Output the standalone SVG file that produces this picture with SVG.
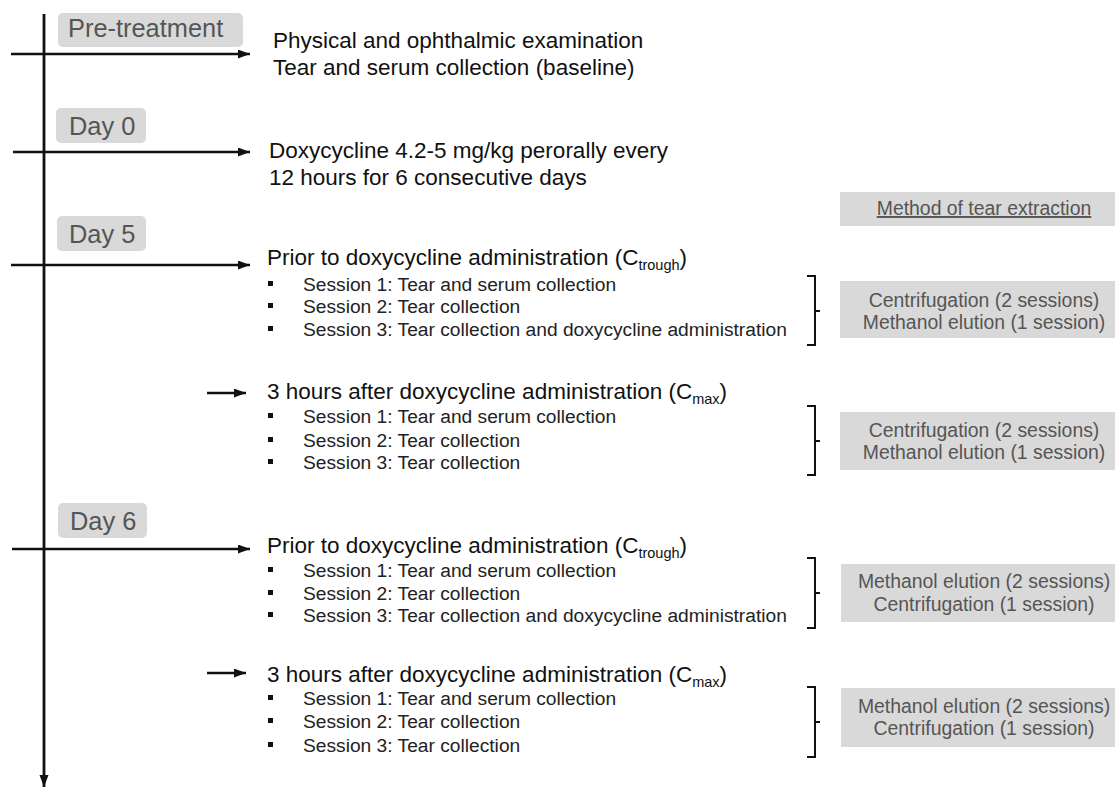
<svg xmlns="http://www.w3.org/2000/svg" width="1115" height="787" viewBox="0 0 1115 787">
<defs>
<marker id="ah" markerUnits="userSpaceOnUse" markerWidth="13" markerHeight="10" refX="12" refY="4.5" orient="auto">
<path d="M0,0 L12,4.5 L0,9 z" fill="#111"/>
</marker>
<style>
.ln{stroke:#111;stroke-width:2.3;fill:none}
.ax{stroke:#111;stroke-width:2.8;fill:none}
.br{stroke:#111;stroke-width:2;fill:none}
.day{fill:#d9d9d9}
.dayt{font-family:"Liberation Sans",Arial,sans-serif;font-size:25.4px;fill:#555}
.main{font-family:"Liberation Sans",Arial,sans-serif;font-size:22.5px;fill:#111}
.sub{font-size:14.5px}
.ses{font-family:"Liberation Sans",Arial,sans-serif;font-size:19.2px;fill:#222}
.bul{fill:#111}
.rbox{fill:#d9d9d9}
.rt{font-family:"Liberation Sans",Arial,sans-serif;font-size:19.4px;fill:#555;text-anchor:middle}
</style>
</defs>
<rect width="1115" height="787" fill="#ffffff"/>

<g id="connectors">
<line class="ax" x1="44" y1="14" x2="44" y2="787" marker-end="url(#ah)"/>
<line class="ln" x1="11" y1="54" x2="250" y2="54" marker-end="url(#ah)"/>
<line class="ln" x1="13" y1="152" x2="250" y2="152" marker-end="url(#ah)"/>
<line class="ln" x1="11" y1="265" x2="250" y2="265" marker-end="url(#ah)"/>
<line class="ln" x1="207" y1="393" x2="246" y2="393" marker-end="url(#ah)"/>
<line class="ln" x1="12" y1="549" x2="250" y2="549" marker-end="url(#ah)"/>
<line class="ln" x1="207" y1="673" x2="246" y2="673" marker-end="url(#ah)"/>
<path class="br" d="M807,276 H815 V345 H807 M815,311 H820"/>
<path class="br" d="M807,406 H815 V475 H807 M815,441 H820"/>
<path class="br" d="M807,558 H815 V628 H807 M815,593 H820"/>
<path class="br" d="M807,687 H815 V757 H807 M815,722 H820"/>
</g>

<g id="pretreatment">
<rect class="day" x="58" y="13" width="185" height="34" rx="5"/>
<text class="dayt" x="68" y="37">Pre-treatment</text>
</g>
<g id="pretreatment-text">
<text class="main" x="273" y="48">Physical and ophthalmic examination</text>
<text class="main" x="273" y="75">Tear and serum collection (baseline)</text>
</g>

<g id="day0">
<rect class="day" x="56" y="108" width="90" height="35" rx="5"/>
<text class="dayt" x="69" y="135">Day 0</text>
</g>
<g id="day0-text">
<text class="main" x="269" y="158">Doxycycline 4.2-5 mg/kg perorally every</text>
<text class="main" x="269" y="185">12 hours for 6 consecutive days</text>
</g>

<g id="method-header">
<rect class="rbox" x="840" y="192" width="275" height="34"/>
<text class="rt" x="984" y="215" text-decoration="underline">Method of tear extraction</text>
</g>

<g id="day5">
<rect class="day" x="57" y="216" width="89" height="35" rx="5"/>
<text class="dayt" x="69" y="243">Day 5</text>
</g>

<g id="day5-trough">
<text class="main" x="267" y="265">Prior to doxycycline administration (C<tspan class="sub" dy="5">trough</tspan><tspan dy="-5">)</tspan></text>
<rect class="bul" x="268" y="281" width="5" height="5"/>
<rect class="bul" x="268" y="303" width="5" height="5"/>
<rect class="bul" x="268" y="326" width="5" height="5"/>
<text class="ses" x="303" y="291">Session 1: Tear and serum collection</text>
<text class="ses" x="303" y="313">Session 2: Tear collection</text>
<text class="ses" x="303" y="336">Session 3: Tear collection and doxycycline administration</text>
</g>
<g id="day5-trough-method">
<rect class="rbox" x="840" y="281" width="275" height="57"/>
<text class="rt" x="984" y="307">Centrifugation (2 sessions)</text>
<text class="rt" x="984" y="329">Methanol elution (1 session)</text>
</g>

<g id="day5-max">
<text class="main" x="267" y="399">3 hours after doxycycline administration (C<tspan class="sub" dy="5">max</tspan><tspan dy="-5">)</tspan></text>
<rect class="bul" x="268" y="413" width="5" height="5"/>
<rect class="bul" x="268" y="437" width="5" height="5"/>
<rect class="bul" x="268" y="459" width="5" height="5"/>
<text class="ses" x="303" y="423">Session 1: Tear and serum collection</text>
<text class="ses" x="303" y="447">Session 2: Tear collection</text>
<text class="ses" x="303" y="469">Session 3: Tear collection</text>
</g>
<g id="day5-max-method">
<rect class="rbox" x="840" y="412" width="275" height="58"/>
<text class="rt" x="984" y="437">Centrifugation (2 sessions)</text>
<text class="rt" x="984" y="459">Methanol elution (1 session)</text>
</g>

<g id="day6">
<rect class="day" x="58" y="503" width="89" height="35" rx="5"/>
<text class="dayt" x="70" y="530">Day 6</text>
</g>

<g id="day6-trough">
<text class="main" x="267" y="553">Prior to doxycycline administration (C<tspan class="sub" dy="5">trough</tspan><tspan dy="-5">)</tspan></text>
<rect class="bul" x="268" y="567" width="5" height="5"/>
<rect class="bul" x="268" y="590" width="5" height="5"/>
<rect class="bul" x="268" y="612" width="5" height="5"/>
<text class="ses" x="303" y="577">Session 1: Tear and serum collection</text>
<text class="ses" x="303" y="600">Session 2: Tear collection</text>
<text class="ses" x="303" y="622">Session 3: Tear collection and doxycycline administration</text>
</g>
<g id="day6-trough-method">
<rect class="rbox" x="841" y="564" width="274" height="58"/>
<text class="rt" x="984" y="588">Methanol elution (2 sessions)</text>
<text class="rt" x="984" y="611">Centrifugation (1 session)</text>
</g>

<g id="day6-max">
<text class="main" x="267" y="682">3 hours after doxycycline administration (C<tspan class="sub" dy="5">max</tspan><tspan dy="-5">)</tspan></text>
<rect class="bul" x="268" y="695" width="5" height="5"/>
<rect class="bul" x="268" y="718" width="5" height="5"/>
<rect class="bul" x="268" y="742" width="5" height="5"/>
<text class="ses" x="303" y="705">Session 1: Tear and serum collection</text>
<text class="ses" x="303" y="728">Session 2: Tear collection</text>
<text class="ses" x="303" y="752">Session 3: Tear collection</text>
</g>
<g id="day6-max-method">
<rect class="rbox" x="841" y="688" width="274" height="59"/>
<text class="rt" x="984" y="713">Methanol elution (2 sessions)</text>
<text class="rt" x="984" y="735">Centrifugation (1 session)</text>
</g>
</svg>
